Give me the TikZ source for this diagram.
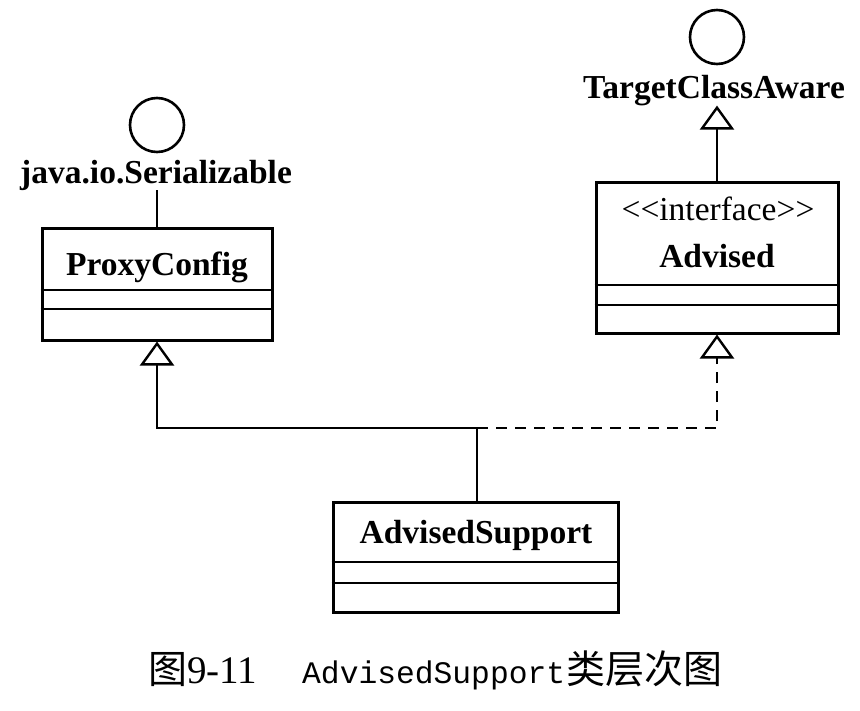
\documentclass[tikz,border=0pt]{standalone}
\usepackage{fontspec}
\setmainfont{Liberation Serif}
\setmonofont{Liberation Mono}
\newfontfamily\cjk{Noto Sans CJK SC}
\usetikzlibrary{arrows.meta}

\begin{document}
\begin{tikzpicture}[x=1pt,y=-1pt,
  cls/.style={draw, line width=3pt, inner sep=0pt},
  divider/.style={line width=2.6pt},
  lbl/.style={font=\fontsize{33.5}{38}\selectfont\bfseries, inner sep=0pt, anchor=base},
  stereo/.style={font=\fontsize{33.5}{38}\selectfont, inner sep=0pt, anchor=base},
  lolli/.style={draw, circle, line width=2.6pt, minimum size=54pt, inner sep=0pt},
  conn/.style={line width=2.4pt},
  gen/.style={-{Triangle[open,length=24pt,width=34pt,line width=2.4pt]}},
  dashline/.style={dash pattern=on 11pt off 8pt},
]
\useasboundingbox (0,0) rectangle (860,710);

% ProxyConfig
\node[cls, minimum width=230pt, minimum height=112pt] (pc) at (157,284) {};
\draw[divider] (pc.west |- 0,290) -- (pc.east |- 0,290);
\draw[divider] (pc.west |- 0,309) -- (pc.east |- 0,309);
\node[lbl] (pcname) at (157,275) {ProxyConfig};

% java.io.Serializable
\node[lolli] (ser) at (157,125) {};
\node[lbl] (sert) at (156,183) {java.io.Serializable};
\draw[conn] (pc.north |- sert.south) -- (pc.north);

% Advised
\node[cls, minimum width=242pt, minimum height=151pt] (adv) at (717,257.5) {};
\draw[divider] (adv.west |- 0,285) -- (adv.east |- 0,285);
\draw[divider] (adv.west |- 0,305) -- (adv.east |- 0,305);
\node[stereo] (advst) at (718,220) {{<}{<}interface{>}{>}};
\node[lbl] (advname) at (717,267) {Advised};

% TargetClassAware
\node[lolli] (tc) at (717,37) {};
\node[lbl] (tca) at (714,98) {TargetClassAware};
\draw[conn, gen] (adv.north) -- (adv.north |- tca.south);

% AdvisedSupport
\node[cls, minimum width=285pt, minimum height=110pt] (as) at (475.5,557) {};
\draw[divider] (as.west |- 0,562) -- (as.east |- 0,562);
\draw[divider] (as.west |- 0,583) -- (as.east |- 0,583);
\node[lbl] (asname) at (476,543) {AdvisedSupport};

% connectors
\coordinate (j) at (477,428);
\draw[conn] (j |- as.north) -- (j);
\draw[conn, gen] (j) -| (pc.south);
\draw[conn, dashline, gen] (j) -| (adv.south);

% caption
\node[inner sep=0pt, anchor=base west, font=\fontsize{39}{44}\selectfont] (cap1) at (148,683) {{\cjk 图}9-11};
\node[inner sep=0pt, anchor=base west, font=\fontsize{31.3}{36}\ttfamily] (cap2) at (302,683) {AdvisedSupport};
\node[inner sep=0pt, anchor=base west, font=\fontsize{39}{44}\cjk] (cap3) at (566,683) {类层次图};
\end{tikzpicture}
\end{document}
